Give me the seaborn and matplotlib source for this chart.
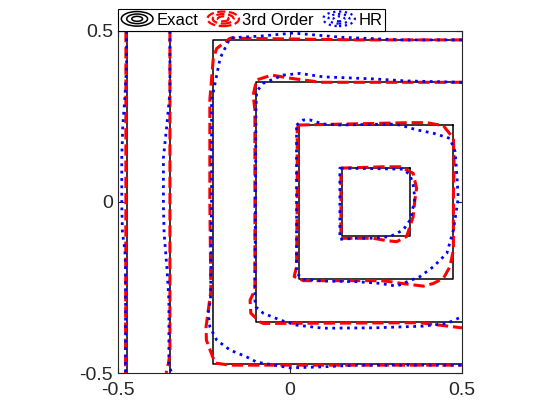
import matplotlib
matplotlib.use('Agg')
import matplotlib.pyplot as plt
import seaborn as sns
from matplotlib.lines import Line2D
from matplotlib.patches import Ellipse
from matplotlib.legend_handler import HandlerBase

# exact solution: square contours around (center_x, 0), half widths = levels
levels = [0.1, 0.225, 0.35, 0.475, 0.6, 0.725]
center_x = 0.25

# 3rd order contours, innermost level first
order3_x = [
    [0.148, 0.271, 0.320, 0.358, 0.368, 0.363, 0.358, 0.339, 0.310, 0.281, 0.242, 0.194, 0.148, 0.148],
    [0.024, 0.349, 0.397, 0.446, 0.475, 0.477, 0.475, 0.475, 0.475, 0.465, 0.446, 0.417, 0.388, 0.339,
     0.291, 0.262, 0.039, 0.012, 0.019, 0.021, 0.021, 0.024],
    [0.5, 0.09, 0.0, -0.053, -0.097, -0.107, -0.102, -0.102, -0.116, -0.114, -0.087, -0.078, 0.378, 0.5],
    [0.5, 0.2, -0.174, -0.213, -0.223, -0.233, -0.233, -0.230, -0.244, -0.243, -0.218, -0.174, 0.5],
    [-0.349, -0.349, -0.353, -0.360],
    [-0.477, -0.477, -0.478],
]
order3_y = [
    [0.099, 0.103, 0.103, 0.084, 0.040, 0.006, -0.043, -0.101, -0.116, -0.113, -0.106, -0.106, -0.106, 0.099],
    [0.225, 0.232, 0.232, 0.223, 0.186, 0.108, 0.012, -0.092, -0.140, -0.189, -0.223, -0.238, -0.246, -0.240,
     -0.233, -0.230, -0.230, -0.218, -0.190, 0.006, 0.211, 0.225],
    [0.35, 0.35, 0.362, 0.371, 0.357, 0.313, 0.269, -0.257, -0.287, -0.325, -0.351, -0.355, -0.353, -0.368],
    [0.474, 0.474, 0.479, 0.449, 0.420, 0.298, 0.0, -0.26, -0.365, -0.404, -0.471, -0.477, -0.477],
    [0.5, -0.44, -0.47, -0.5],
    [0.5, 0.0, -0.5],
]

# HR contours, innermost level first
hr_x = [
    [0.148, 0.329, 0.349, 0.358, 0.363, 0.358, 0.349, 0.329, 0.291, 0.242, 0.194, 0.145, 0.145, 0.148],
    [0.019, 0.039, 0.058, 0.097, 0.145, 0.291, 0.320, 0.368, 0.417, 0.465, 0.480, 0.485, 0.489, 0.475,
     0.456, 0.417, 0.378, 0.329, 0.310, 0.262, 0.194, 0.097, 0.039, 0.019, 0.019],
    [0.5, 0.339, 0.241, 0.096, 0.029, -0.020, -0.078, -0.097, -0.099, -0.102, -0.099, -0.078, -0.029,
     0.019, 0.097, 0.242, 0.387, 0.456, 0.5],
    [0.5, 0.320, 0.145, 0.009, -0.087, -0.174, -0.203, -0.213, -0.228, -0.228, -0.231, -0.238, -0.233,
     -0.213, -0.174, -0.126, -0.097, 0.0, 0.096, 0.194, 0.5],
    [-0.349, -0.349, -0.358, -0.368, -0.368, -0.366, -0.358, -0.352, -0.352, -0.344],
    [-0.475, -0.475, -0.480, -0.486, -0.489, -0.489, -0.487, -0.480, -0.478, -0.478],
]
hr_y = [
    [0.099, 0.096, 0.079, 0.050, 0.011, -0.014, -0.053, -0.082, -0.101, -0.106, -0.106, -0.109, 0.099, 0.099],
    [0.225, 0.240, 0.240, 0.228, 0.225, 0.228, 0.225, 0.211, 0.201, 0.186, 0.147, 0.079, 0.011, -0.082,
     -0.150, -0.189, -0.218, -0.238, -0.246, -0.238, -0.233, -0.231, -0.226, -0.208, 0.225],
    [0.35, 0.354, 0.360, 0.366, 0.376, 0.371, 0.347, 0.323, 0.269, -0.287, -0.307, -0.325, -0.345,
     -0.360, -0.369, -0.368, -0.363, -0.355, -0.335],
    [0.474, 0.474, 0.482, 0.494, 0.485, 0.480, 0.421, 0.371, 0.298, 0.006, -0.287, -0.325, -0.365,
     -0.404, -0.433, -0.453, -0.468, -0.485, -0.482, -0.477, -0.477],
    [0.5, 0.322, 0.225, 0.129, -0.009, -0.091, -0.190, -0.287, -0.477, -0.5],
    [0.5, 0.4, 0.304, 0.225, 0.129, -0.009, -0.091, -0.140, -0.190, -0.5],
]

ticks = [-0.5, 0, 0.5]
tick_labels = ['-0.5', '0', '0.5']


class ContourIcon(HandlerBase):
    """Legend icon like MATLAB contour: concentric ellipses."""
    def create_artists(self, legend, orig_handle, xdescent, ydescent,
                       width, height, fontsize, trans):
        cx = width / 2 - xdescent
        cy = height / 2 - ydescent
        arts = []
        for s in (1.0, 0.66, 0.34):
            e = Ellipse((cx, cy), width * s, height * 1.25 * s, fill=False,
                        edgecolor=orig_handle.get_color(),
                        linestyle=orig_handle.get_linestyle(),
                        linewidth=orig_handle.get_linewidth(), transform=trans)
            arts.append(e)
        return arts


sns.set_style('ticks')
plt.rcParams['font.family'] = ['Liberation Sans', 'DejaVu Sans']

fig = plt.figure(figsize=(5.6, 4.2), dpi=100)
ax = fig.add_axes([0.2107, 0.1119, 0.6143, 0.8143])

for h in levels:
    xs = [center_x + h, center_x - h, center_x - h, center_x + h, center_x + h]
    ys = [h, h, -h, -h, h]
    sns.lineplot(x=xs, y=ys, sort=False, estimator=None, ax=ax, color='black',
                 linewidth=1.1, legend=False)

for xs, ys in zip(order3_x, order3_y):
    sns.lineplot(x=xs, y=ys, sort=False, estimator=None, ax=ax, color='red',
                 linewidth=2.2, linestyle='--', legend=False)

for xs, ys in zip(hr_x, hr_y):
    sns.lineplot(x=xs, y=ys, sort=False, estimator=None, ax=ax, color='blue',
                 linewidth=2.0, linestyle=':', legend=False)

ax.set_xlim(-0.5, 0.5)
ax.set_ylim(-0.5, 0.5)
ax.set_xticks(ticks)
ax.set_xticklabels(tick_labels)
ax.set_yticks(ticks)
ax.set_yticklabels(tick_labels)
ax.tick_params(direction='in', length=4, width=0.8, labelsize=14, colors='#262626',
               top=True, right=True)
ax.tick_params(axis='x', pad=6.5)
ax.tick_params(axis='y', pad=3.5)
for sp in ax.spines.values():
    sp.set_color('#262626')
    sp.set_linewidth(0.8)

handles = [Line2D([], [], color='black', linewidth=1.1),
           Line2D([], [], color='red', linewidth=1.6, linestyle='--'),
           Line2D([], [], color='blue', linewidth=1.6, linestyle=':')]
leg = ax.legend(handles, ['Exact', '3rd Order', 'HR'], ncol=3,
                loc='lower left', bbox_to_anchor=(0, 1), borderaxespad=0,
                fontsize=12, handler_map={Line2D: ContourIcon()},
                handlelength=1.9, handletextpad=0.2, columnspacing=0.55,
                borderpad=0.2, fancybox=False, framealpha=1, edgecolor='black',
                labelcolor='black')
leg.get_frame().set_linewidth(0.8)

plt.savefig('out.png', dpi=100)
plt.close()
